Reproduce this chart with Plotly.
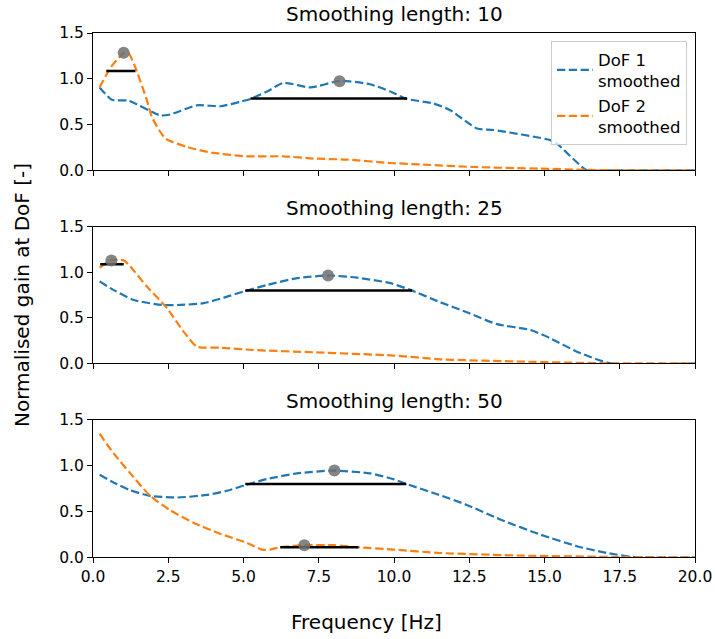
import plotly.graph_objects as go

W, H = 715, 639

# ---- data: smoothed normalised gain per DoF, for three smoothing lengths ----
smoothing_lengths = [10, 25, 50]

f_dof1_10 = [0.22, 0.63, 1.18, 2.24, 2.57, 3.45, 4.23, 4.9, 5.23, 5.78, 6.33, 7.22, 8.22, 9.2, 9.88, 10.43, 11.32, 11.87, 12.76, 13.31, 15.19, 15.42, 16.41, 17.0, 20.0]
g_dof1_10 = [0.905, 0.77, 0.76, 0.60, 0.61, 0.71, 0.70, 0.75, 0.78, 0.86, 0.955, 0.905, 0.977, 0.94, 0.86, 0.78, 0.73, 0.656, 0.456, 0.44, 0.33, 0.29, 0.0, 0.0, 0.0]
f_dof2_10 = [0.22, 0.6, 1.02, 1.18, 1.4, 1.79, 1.96, 2.4, 3.12, 4.0, 5.1, 6.33, 7.33, 8.44, 9.88, 10.98, 12.64, 14.86, 16.4, 17.5, 20.0]
g_dof2_10 = [0.905, 1.13, 1.28, 1.28, 1.13, 0.766, 0.58, 0.35, 0.255, 0.19, 0.153, 0.153, 0.128, 0.117, 0.08, 0.062, 0.036, 0.018, 0.005, 0.0, 0.0]

f_dof1_25 = [0.22, 0.68, 1.35, 2.29, 2.9, 3.67, 4.34, 5.0, 5.78, 6.78, 7.83, 8.77, 9.88, 10.54, 11.54, 12.42, 13.42, 14.53, 15.19, 16.08, 17.19, 20.0]
g_dof1_25 = [0.90, 0.806, 0.696, 0.641, 0.641, 0.66, 0.72, 0.788, 0.86, 0.935, 0.964, 0.94, 0.88, 0.806, 0.67, 0.56, 0.43, 0.366, 0.275, 0.128, 0.0, 0.0]
f_dof2_25 = [0.22, 0.63, 1.02, 1.24, 1.79, 2.46, 3.01, 3.45, 4.21, 5.33, 7.33, 10.0, 11.54, 14.3, 17.2, 20.0]
g_dof2_25 = [1.05, 1.136, 1.13, 1.063, 0.843, 0.605, 0.348, 0.183, 0.172, 0.146, 0.121, 0.085, 0.044, 0.018, 0.0, 0.0]

f_dof1_50 = [0.22, 0.68, 1.24, 1.9, 2.79, 3.79, 4.45, 5.06, 5.78, 6.78, 7.99, 9.21, 10.0, 10.43, 11.43, 12.42, 13.53, 14.86, 16.08, 17.08, 18.07, 20.0]
g_dof1_50 = [0.90, 0.816, 0.73, 0.67, 0.652, 0.68, 0.725, 0.787, 0.853, 0.915, 0.945, 0.915, 0.85, 0.798, 0.688, 0.571, 0.413, 0.248, 0.121, 0.047, 0.0, 0.0]
f_dof2_50 = [0.22, 0.68, 1.24, 1.9, 2.57, 3.34, 4.23, 5.12, 5.61, 5.89, 6.22, 7.0, 7.99, 8.77, 10.0, 11.54, 14.3, 17.6, 20.0]
g_dof2_50 = [1.347, 1.135, 0.915, 0.67, 0.512, 0.377, 0.256, 0.157, 0.084, 0.084, 0.11, 0.132, 0.132, 0.11, 0.084, 0.047, 0.018, 0.003, 0.0]

# peak markers (frequency, gain) per panel: [DoF 1, DoF 2]
peak_f = [[8.19, 1.02], [7.81, 0.61], [8.02, 7.02]]
peak_g = [[0.974, 1.283], [0.964, 1.13], [0.945, 0.132]]

# bandwidth bars (start, end, level) per panel: [DoF 1, DoF 2]
band_lo = [[5.23, 0.44], [5.06, 0.24], [5.06, 6.22]]
band_hi = [[10.43, 1.41], [10.6, 1.02], [10.41, 8.82]]
band_lv = [[0.784, 1.086], [0.80, 1.089], [0.798, 0.11]]

x_ticks = [0, 2.5, 5, 7.5, 10, 12.5, 15, 17.5, 20]
y_ticks = [0, 0.5, 1.0, 1.5]

curves = [
    (f_dof1_10, g_dof1_10, f_dof2_10, g_dof2_10),
    (f_dof1_25, g_dof1_25, f_dof2_25, g_dof2_25),
    (f_dof1_50, g_dof1_50, f_dof2_50, g_dof2_50),
]

BLUE = "#1f77b4"
ORANGE = "#ff7f0e"
FONT = "DejaVu Sans"


def px_x(p):
    return p / W


def px_y(p):
    return (H - p) / H


# panel pixel extents (top, bottom)
x_dom = [px_x(93), px_x(695)]
panel_px = [(33, 170.3), (226.7, 363.3), (419.7, 557.3)]

fig = go.Figure()
dash = "8.3px,3.5px"

for i, (f1, g1, f2, g2) in enumerate(curves):
    sfx = "" if i == 0 else str(i + 1)
    xa, ya = "x" + sfx, "y" + sfx
    fig.add_trace(go.Scatter(
        x=f1, y=g1, xaxis=xa, yaxis=ya, mode="lines",
        line=dict(color=BLUE, width=2.2, dash=dash, shape="spline", smoothing=0.6),
        name="DoF 1<br>smoothed", showlegend=(i == 0), legendgroup="d1"))
    fig.add_trace(go.Scatter(
        x=f2, y=g2, xaxis=xa, yaxis=ya, mode="lines",
        line=dict(color=ORANGE, width=2.2, dash=dash, shape="spline", smoothing=0.6),
        name="DoF 2<br>smoothed", showlegend=(i == 0), legendgroup="d2"))
    for k in range(2):
        fig.add_trace(go.Scatter(
            x=[band_lo[i][k], band_hi[i][k]], y=[band_lv[i][k], band_lv[i][k]],
            xaxis=xa, yaxis=ya, mode="lines",
            line=dict(color="black", width=2.5), showlegend=False, hoverinfo="skip"))
    fig.add_trace(go.Scatter(
        x=peak_f[i], y=peak_g[i], xaxis=xa, yaxis=ya, mode="markers",
        marker=dict(color="rgba(110,110,110,0.85)", size=12, line=dict(width=0)),
        showlegend=False, cliponaxis=False))

axis_common = dict(
    showline=True, mirror=True, linecolor="black", linewidth=1.1,
    ticks="outside", ticklen=5, tickwidth=1.1, tickcolor="black",
    showgrid=False, zeroline=False, automargin=False,
    tickfont=dict(family=FONT, size=15.5, color="black"),
)

layout = dict(
    width=W, height=H, margin=dict(l=0, r=0, t=0, b=0, autoexpand=False),
    plot_bgcolor="white", paper_bgcolor="white",
    font=dict(family=FONT, color="black"),
    legend=dict(
        x=px_x(687), y=px_y(41), xanchor="right", yanchor="top",
        bgcolor="rgba(255,255,255,0.8)", bordercolor="#cccccc", borderwidth=1,
        font=dict(family=FONT, size=16.5, color="black"),
        tracegroupgap=0, itemwidth=36,
    ),
)

annotations = []
for i, (top, bot) in enumerate(panel_px):
    sfx = "" if i == 0 else str(i + 1)
    layout["xaxis" + sfx] = dict(
        axis_common, domain=x_dom, range=[0, 20], tickvals=x_ticks,
        ticktext=[f"{v:.1f}" for v in x_ticks],
        showticklabels=(i == 2), anchor="y" + sfx,
        **({} if i == 0 else {"matches": "x"}))
    layout["yaxis" + sfx] = dict(
        axis_common, domain=[px_y(bot), px_y(top)], range=[0, 1.5],
        tickvals=y_ticks, ticktext=[f"{v:.1f}" for v in y_ticks],
        anchor="x" + sfx)
    annotations.append(dict(
        text=f"Smoothing length: {smoothing_lengths[i]}",
        x=(x_dom[0] + x_dom[1]) / 2, y=px_y(top), xref="paper", yref="paper",
        xanchor="center", yanchor="bottom", yshift=5, showarrow=False,
        font=dict(family=FONT, size=20, color="black")))

annotations.append(dict(
    text="Frequency [Hz]", x=px_x(366), y=px_y(622), xref="paper", yref="paper",
    xanchor="center", yanchor="middle", showarrow=False,
    font=dict(family=FONT, size=20, color="black")))
annotations.append(dict(
    text="Normalised gain at DoF [-]", x=px_x(22), y=px_y(295), xref="paper", yref="paper",
    xanchor="center", yanchor="middle", textangle=-90, showarrow=False,
    font=dict(family=FONT, size=20, color="black")))

layout["annotations"] = annotations
fig.update_layout(**layout)

fig.write_html("out.html")
